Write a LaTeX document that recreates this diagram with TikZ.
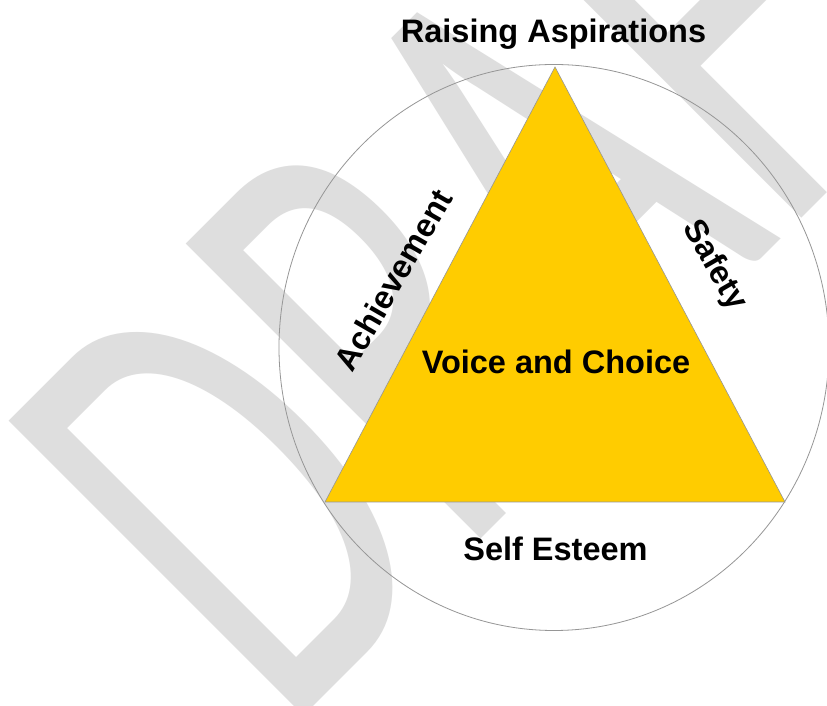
\documentclass[tikz,border=0pt]{standalone}
\usepackage{fontspec}
\setmainfont{Liberation Sans}
\newfontfamily\draftfont{Carlito}
\definecolor{pyramid}{RGB}{255,204,0}
\definecolor{edgegray}{RGB}{150,150,150}
\definecolor{markgray}{RGB}{222,222,222}

\begin{document}
\begin{tikzpicture}[x=1pt, y=1pt,
  sidetext/.style={font=\fontsize{32.5}{39}\selectfont\bfseries, inner sep=0pt},
  watermark/.style={font=\draftfont\fontsize{405}{405}\selectfont,
    text=markgray, inner sep=0pt, anchor=base west}]
\useasboundingbox (0,0) rectangle (827,706);
\fill[white] (0,0) rectangle (827,706);
\clip (0,0) rectangle (827,706);
% stretched watermark lies under everything else
\node[watermark, rotate=45, yscale=1.605, transform shape] (draft) at (284.5,-29.5) {DRAFT};

\coordinate (apex) at (555,639);
\coordinate (lcorner) at (325,204);
\coordinate (rcorner) at (785,204);
\draw[edgegray, line width=0.8pt] (554,358.5) ellipse [x radius=275, y radius=283];
\filldraw[fill=pyramid, draw=edgegray, line width=0.6pt] (lcorner) -- (apex) -- (rcorner) -- cycle;

\node[sidetext, anchor=base] (aspire) at (553.5,663) {Raising Aspirations};
\node[sidetext, anchor=base] (voice) at (556,332) {Voice and Choice};
\node[sidetext, anchor=base] (esteem) at (555.5,145) {Self Esteem};
\node[sidetext, rotate=60] (achieve) at (393,426) {Achievement};
\node[sidetext, rotate=-60] (safety) at (714,440) {Safety};
\end{tikzpicture}
\end{document}
